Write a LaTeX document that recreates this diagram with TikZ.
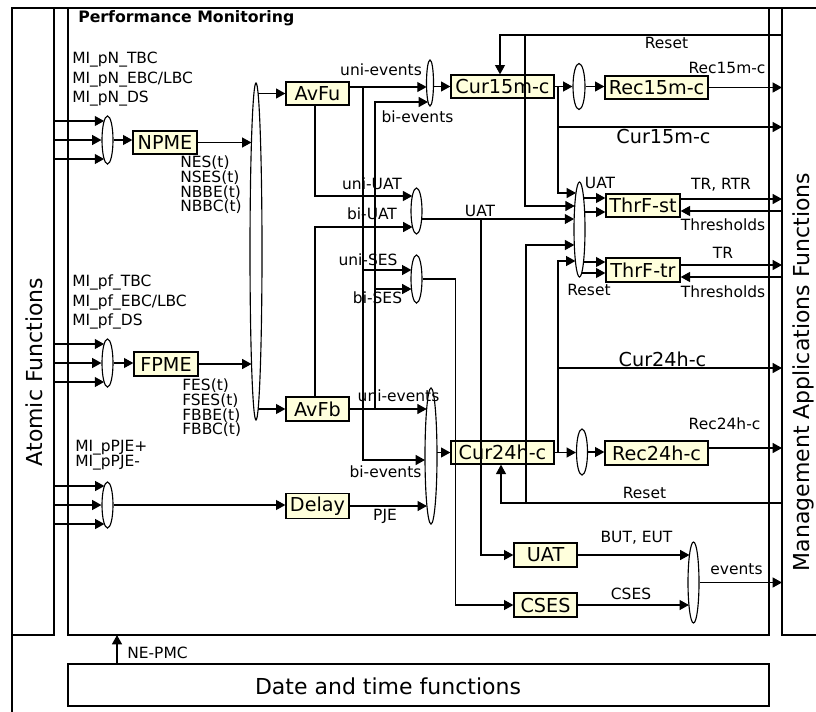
\documentclass[tikz,border=0pt]{standalone}
\usepackage{fontspec}
\setmainfont{DejaVu Sans}
\usetikzlibrary{arrows.meta,shapes.geometric,calc}
\definecolor{boxfill}{RGB}{255,255,220}
\begin{document}
\begin{tikzpicture}[x=0.75pt,y=-0.75pt,
  sz/.style 2 args={minimum width=#1*0.75pt,minimum height=#2*0.75pt},
  frame/.style={draw,line width=1.4pt,inner sep=0pt,outer sep=0pt},
  blk/.style={draw,line width=1pt,fill=boxfill,inner sep=0pt,font=\fontsize{14.4}{16}\selectfont},
  mrg/.style={draw,ellipse,line width=0.85pt,inner sep=0pt},
  conn/.style={line width=0.85pt},
  arr/.style={conn,-{Triangle[length=7pt,width=7.5pt]}},
  lbl/.style={inner sep=0pt,font=\fontsize{11.6}{13}\selectfont},
  lbll/.style={inner sep=0pt,font=\fontsize{14.4}{16}\selectfont},
  side/.style={inner sep=0pt,font=\fontsize{16.5}{18}\selectfont},
]
\useasboundingbox (0,0) rectangle (816,711);
\clip (0,0) rectangle (816,711);

% frames
\node[frame,sz={810}{752},anchor=north west] (outer) at (12,8) {};
\node[frame,sz={42}{627},anchor=north west] (atomic) at (12,8) {};
\node[frame,sz={701}{627},anchor=north west] (pm) at (68,8) {};
\node[frame,sz={40}{627},anchor=north west] (mgmt) at (782,8) {};
\node[frame,sz={701}{42},anchor=north west] (datebox) at (68,664) {};

% function blocks
\node[blk,sz={64}{23}] (npme) at (165,142.5) {NPME};
\node[blk,sz={64}{24}] (fpme) at (166,364) {FPME};
\node[blk,sz={63}{23}] (avfu) at (317.5,93.5) {AvFu};
\node[blk,sz={63}{24}] (avfb) at (317.5,409) {AvFb};
\node[blk,sz={63}{25}] (delay) at (317.5,506) {Delay};
\node[blk,sz={103}{23}] (cur15) at (502.5,86.5) {Cur15m-c};
\node[blk,sz={103}{23}] (rec15) at (656.5,87.5) {Rec15m-c};
\node[blk,sz={74}{23}] (thrst) at (643,205.5) {ThrF-st};
\node[blk,sz={74}{24}] (thrtr) at (643,270) {ThrF-tr};
\node[blk,sz={103}{23}] (cur24) at (502.5,452.5) {Cur24h-c};
\node[blk,sz={103}{24}] (rec24) at (656.5,453) {Rec24h-c};
\node[blk,sz={63}{24}] (uat) at (545.5,555) {UAT};
\node[blk,sz={63}{24}] (cses) at (545.5,605) {CSES};

% merge points
\node[mrg,sz={11}{48}] (enp) at (107.5,140) {};
\node[mrg,sz={11}{48}] (efp) at (107.5,363) {};
\node[mrg,sz={11}{46}] (epj) at (107.5,505) {};
\node[mrg,sz={12}{337}] (ebig) at (256,251.5) {};
\node[mrg,sz={7}{46}] (eev) at (430,83) {};
\node[mrg,sz={12}{46}] (e15) at (579,86.5) {};
\node[mrg,sz={11}{95}] (ethr) at (579.5,229.5) {};
\node[mrg,sz={11}{46}] (e24) at (582,452) {};
\node[mrg,sz={11}{46}] (euat) at (416.5,211) {};
\node[mrg,sz={11}{48}] (eses) at (416.5,279) {};
\node[mrg,sz={12}{136}] (eday) at (431,456) {};
\node[mrg,sz={11}{81}] (eout) at (693.5,582.5) {};

% junctions
\coordinate (ju) at (363,87);
\coordinate (jus) at (363,270);
\coordinate (jb) at (375,409);
\coordinate (jbs) at (375,289);
\coordinate (jua) at (481,219);
\coordinate (jc15) at (558,86.5);
\coordinate (jc15b) at (558,127);
\coordinate (jrs1) at (525,35);
\coordinate (jc24) at (558,452.5);
\coordinate (jc24b) at (558,368);
\coordinate (jrs2) at (526,503);
\coordinate (rs1) at (mgmt.west |- 0,35);
\coordinate (rs2) at (mgmt.west |- 0,503);

% inputs from the atomic functions
\draw[arr] (atomic.east |- 0,121) -- ($(enp.center)+(-3.4,-19)$);
\draw[arr] (atomic.east |- enp.center) -- (enp.west);
\draw[arr] (atomic.east |- 0,159) -- ($(enp.center)+(-3.4,19)$);
\draw[arr] (atomic.east |- 0,344) -- ($(efp.center)+(-3.4,-19)$);
\draw[arr] (atomic.east |- efp.center) -- (efp.west);
\draw[arr] (atomic.east |- 0,382) -- ($(efp.center)+(-3.4,19)$);
\draw[arr] (atomic.east |- 0,486) -- ($(epj.center)+(-3.1,-19)$);
\draw[arr] (atomic.east |- epj.center) -- (epj.west);
\draw[arr] (atomic.east |- 0,524) -- ($(epj.center)+(-3.1,19)$);

\draw[arr] (enp.east) -- (npme.west |- enp.east);
\draw[arr] (efp.east) -- (fpme.west |- efp.east);
\draw[arr] (epj.east) -- (delay.west |- epj.east);
\draw[arr] (npme.east) -- ($(ebig.center)+(-4.6,-109)$);
\draw[arr] (fpme.east) -- ($(ebig.center)+(-4.5,112.5)$);
\draw[arr] ($(ebig.center)+(2.1,-158)$) -- (avfu.west);
\draw[arr] ($(ebig.center)+(2.1,157.5)$) -- (avfb.west);

% availability outputs
\draw[arr] ($(avfu.east)+(0,-6.5)$) -- ($(eev.center)+(-3.4,4)$);
\draw[arr] (ju) |- ($(eday.center)+(-6,4)$);
\draw[arr] (jus) -- ($(eses.center)+(-5.1,-9)$);
\draw[arr] (avfb.east) -- ($(eday.center)+(-4.3,-47)$);
\draw[arr] (jb) |- ($(eev.center)+(-2,19)$);
\draw[arr] (jbs) -- ($(eses.center)+(-5,10)$);
\draw[arr] ($(avfu.south)+(-2.5,0)$) |- ($(euat.center)+(-4.2,-15)$);
\draw[arr] ($(avfb.north)+(-2.5,0)$) |- ($(euat.center)+(-4,16)$);
\draw[arr] ($(euat.center)+(5.2,8)$) -- ($(ethr.center)+(-5.4,-10.5)$);
\draw[arr] (jua) |- (uat.west);
\draw[arr] (eses.east) -| ($(cses.west)+(-58,0)$) -- (cses.west);
\draw[arr] (delay.east) -- ($(eday.center)+(-4.1,50)$);
\draw[arr] ($(eday.center)+(6,-3.5)$) -- (cur24.west);
\draw[arr] ($(eev.center)+(3.4,3.5)$) -- (cur15.west);

% 15 min counters
\draw[arr] (cur15.east) -- (e15.west);
\draw[arr] (e15.east) -- (rec15.west |- e15.east);
\draw[arr] (rec15.east) -- (mgmt.west |- rec15.east);
\draw[arr] (jc15) |- ($(ethr.center)+(-3.5,-36.5)$);
\draw[arr] (jc15b) -- (mgmt.west |- jc15b);
\draw[arr] (rs1) -| ($(cur15.north)+(-2.5,0)$);
\draw[arr] (jrs1) |- ($(ethr.center)+(-4.8,-23.5)$);

% threshold functions
\draw[arr] ($(ethr.center)+(4.1,-31.5)$) coordinate (t1) -- (thrst.west |- t1);
\draw[arr] ($(ethr.center)+(5.1,-17.5)$) coordinate (t2) -- (thrst.west |- t2);
\draw[arr] (thrst.east |- 0,199) -- (mgmt.west |- 0,199);
\draw[arr] (mgmt.west |- 0,211) -- (thrst.east |- 0,211);
\draw[arr] ($(ethr.center)+(4,32.5)$) coordinate (t3) -- (thrtr.west |- t3);
\draw[arr] ($(ethr.center)+(2.2,43.5)$) coordinate (t4) -- (thrtr.west |- t4);
\draw[arr] (thrtr.east |- 0,265) -- (mgmt.west |- 0,265);
\draw[arr] (mgmt.west |- 0,277) -- (thrtr.east |- 0,277);

% 24 h counters
\draw[arr] (cur24.east) -- (e24.west |- cur24.east);
\draw[arr] (e24.east) -- (rec24.west |- e24.east);
\draw[arr] ($(rec24.east)+(0,-5)$) coordinate (t5) -- (mgmt.west |- t5);
\draw[arr] (jc24) |- ($(ethr.center)+(-4.1,31.5)$);
\draw[arr] (jc24b) -- (mgmt.west |- jc24b);
\draw[arr] (rs2) -| ($(cur24.south)+(-1.5,0)$);
\draw[arr] (jrs2) |- ($(ethr.center)+(-5.2,15.5)$);

% event outputs
\draw[arr] (uat.east) -- ($(eout.center)+(-4,-27.5)$);
\draw[arr] (cses.east) -- ($(eout.center)+(-4.6,22.5)$);
\draw[arr] (eout.east) -- (mgmt.west |- eout.east);

% time reference
\draw[arr] ($(datebox.north west)+(49,0)$) -- ($(pm.south west)+(49,0)$);

% labels
\node[inner sep=0pt,anchor=west,font=\bfseries\fontsize{11.8}{13}\selectfont] (l-pm) at (78,18) {Performance Monitoring};
\node[lbl,anchor=west,align=left,font=\fontsize{11.6}{14.6}\selectfont] (l-pn) at (72,79.5) {MI\_pN\_TBC\\MI\_pN\_EBC/LBC\\MI\_pN\_DS};
\node[lbl,anchor=west,align=left,font=\fontsize{11.6}{11}\selectfont] (l-nes) at (180,185) {NES(t)\\NSES(t)\\NBBE(t)\\NBBC(t)};
\node[lbl,anchor=west,align=left,font=\fontsize{11.6}{14.6}\selectfont] (l-pf) at (72,302) {MI\_pf\_TBC\\MI\_pf\_EBC/LBC\\MI\_pf\_DS};
\node[lbl,anchor=west,align=left,font=\fontsize{11.6}{11}\selectfont] (l-fes) at (182,408) {FES(t)\\FSES(t)\\FBBE(t)\\FBBC(t)};
\node[lbl,anchor=west,align=left,font=\fontsize{11.6}{11.3}\selectfont] (l-pje) at (75,455.5) {MI\_pPJE+\\MI\_pPJE-};
\node[lbl] (l-ue1) at (381,70) {uni-events};
\node[lbl] (l-be1) at (417.5,117) {bi-events};
\node[lbl] (l-uu) at (372,184) {uni-UAT};
\node[lbl] (l-bu) at (372,214) {bi-UAT};
\node[lbl] (l-uat) at (480,211) {UAT};
\node[lbl] (l-us) at (368,260) {uni-SES};
\node[lbl] (l-bs) at (377.5,298) {bi-SES};
\node[lbl] (l-ue2) at (398.5,396) {uni-events};
\node[lbl] (l-be2) at (385.5,472) {bi-events};
\node[lbl] (l-pjeo) at (385,516) {PJE};
\node[lbl] (l-rs1) at (666.5,43) {Reset};
\node[lbl] (l-r15) at (727,68) {Rec15m-c};
\node[lbll] (l-c15) at (663.5,137) {Cur15m-c};
\node[lbl] (l-uat2) at (600,183) {UAT};
\node[lbl] (l-tr1) at (721,185) {TR, RTR};
\node[lbl] (l-th1) at (723,225) {Thresholds};
\node[lbl] (l-tr2) at (723,253) {TR};
\node[lbl] (l-th2) at (723,292) {Thresholds};
\node[lbl] (l-rs2) at (589,290) {Reset};
\node[lbll] (l-c24) at (662.5,359) {Cur24h-c};
\node[lbl] (l-r24) at (724.5,424) {Rec24h-c};
\node[lbl] (l-rs3) at (644.5,493) {Reset};
\node[lbl] (l-but) at (636.5,538) {BUT, EUT};
\node[lbl] (l-cses) at (631,594) {CSES};
\node[lbl] (l-ev) at (736.5,569) {events};
\node[lbl,anchor=west] (l-ne) at (127,653) {NE-PMC};
\node[side] (l-date) at (388,686) {Date and time functions};
\node[side,rotate=90,anchor=base] (l-atomic) at (42,372) {Atomic Functions};
\node[side,rotate=90,anchor=base] (l-mgmt) at (809,372) {Management Applications Functions};
\end{tikzpicture}
\end{document}
